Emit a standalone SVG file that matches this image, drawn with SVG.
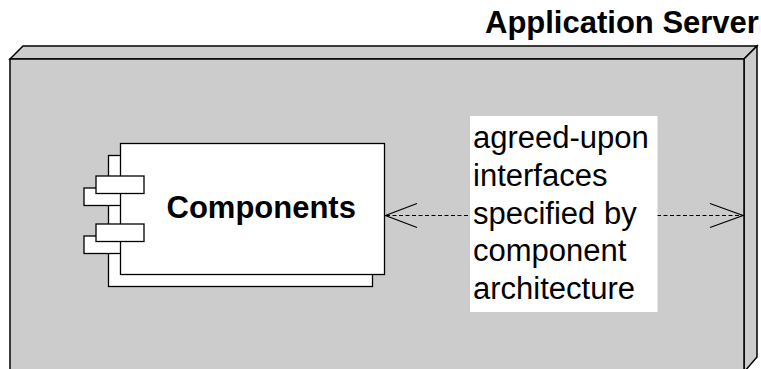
<svg xmlns="http://www.w3.org/2000/svg" width="761" height="369" viewBox="0 0 761 369">
<style>
.face{fill:#cccccc;stroke:#000;stroke-width:1.5;stroke-linejoin:miter}
.box{fill:#fff;stroke:#000;stroke-width:1.3}
.t{font-family:"Liberation Sans",Arial,sans-serif;font-size:31px;fill:#000}
.b{font-weight:bold}
.dash{fill:none;stroke:#000;stroke-width:1;stroke-dasharray:4 2.5}
.head{fill:none;stroke:#000;stroke-width:1.2}
</style>
<rect width="761" height="369" fill="#fff"/>
<g id="app-server">
<polygon class="face" points="10,59 23,46 757,46 744,59"/>
<polygon class="face" points="744,59 757,46 757,357 744,372"/>
<rect class="face" x="10" y="59" width="734" height="320"/>
<text class="t b" x="485" y="32.5">Application Server</text>
</g>
<g id="components">
<rect class="box" x="108.5" y="155.5" width="264" height="131"/>
<rect class="box" x="84" y="188" width="48" height="17.5"/>
<rect class="box" x="84" y="236" width="48" height="17.5"/>
<rect class="box" x="120.5" y="143.5" width="264" height="131"/>
<rect class="box" x="96" y="176" width="48" height="17.5"/>
<rect class="box" x="96" y="224" width="48" height="17.5"/>
<text class="t b" x="166.5" y="218">Components</text>
</g>
<g id="connectors">
<line class="dash" x1="386" y1="215.5" x2="470" y2="215.5"/>
<polyline class="head" points="417,203.5 385.5,215.5 417,227.5"/>
<line class="dash" x1="657" y1="215.5" x2="742" y2="215.5"/>
<polyline class="head" points="710,203.5 743,215.5 710,227.5"/>
</g>
<g id="label">
<rect x="470" y="116" width="187.5" height="196" fill="#fff"/>
<text class="t" x="473">
<tspan x="473" y="148">agreed-upon</tspan>
<tspan x="473" y="186">interfaces</tspan>
<tspan x="473" y="223.5">specified by</tspan>
<tspan x="473" y="261">component</tspan>
<tspan x="473" y="299">architecture</tspan>
</text>
</g>
</svg>
